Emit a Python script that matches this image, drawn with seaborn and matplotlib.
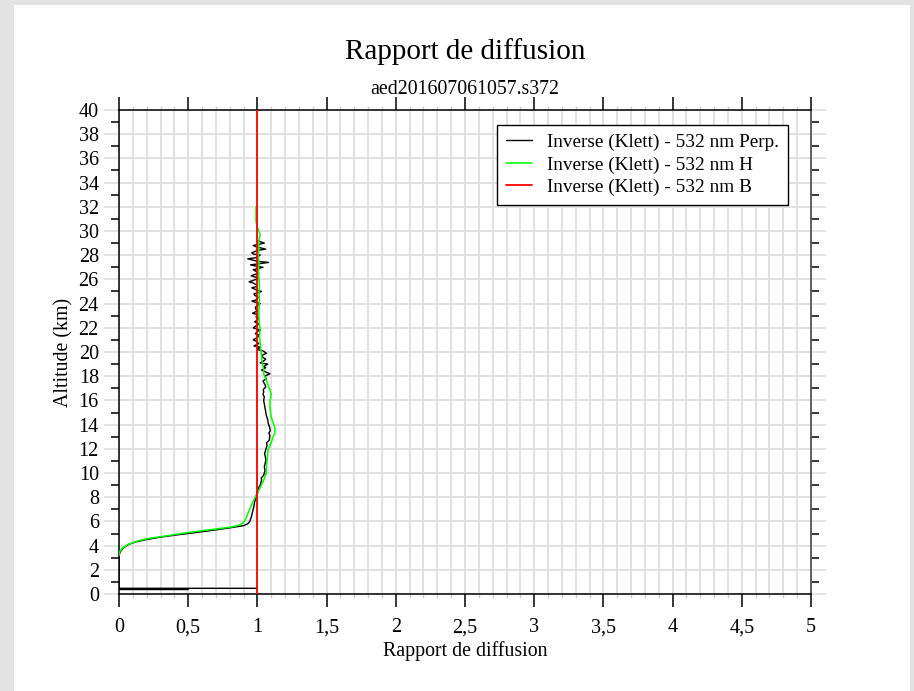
import numpy as np
import pandas as pd
import matplotlib
matplotlib.use("Agg")
import matplotlib.pyplot as plt
from matplotlib.patches import Rectangle
from matplotlib.ticker import MultipleLocator, FuncFormatter
import seaborn as sns

# ---- profile data (altitude in km, scattering ratio) ----
perp_alt = [0.47, 0.47, 0.41, 0.41, 0.37, 0.37,
            3.2, 3.5, 3.8, 4.1, 4.3, 4.5, 4.7, 4.9, 5.1, 5.3, 5.5, 5.65, 5.8,
            6.0, 6.4, 6.8, 7.2, 7.6, 7.9, 8.2, 8.5, 8.8, 9.0, 9.4, 9.6, 9.8,
            10.2, 10.5, 10.8, 11.1, 11.3, 11.6, 11.9, 12.3, 12.5, 12.7, 13.1,
            13.3, 13.5, 13.9, 14.1, 14.4, 14.7, 14.9, 15.2, 15.5, 15.8, 16.0,
            16.3, 16.5, 16.7, 16.9, 17.1, 17.3, 17.6, 17.8, 18.0, 18.2, 18.3,
            18.5, 18.7, 18.8, 19.0, 19.1, 19.3, 19.4, 19.6, 19.7, 19.9, 20.1,
            20.2, 20.4, 20.5, 20.7, 20.9, 21.0, 21.2, 21.4, 21.5, 21.7,
            21.8, 22.0, 22.2, 22.3, 22.5, 22.6, 22.8, 22.9, 23.1, 23.2, 23.4,
            23.5, 23.7, 23.9, 24.0, 24.2, 24.3, 24.5, 24.7, 24.8, 25.0, 25.1,
            25.3, 25.4, 25.5, 25.7, 25.8, 26.0, 26.1, 26.3, 26.4, 26.5, 26.7,
            26.8, 27.0, 27.1, 27.2, 27.4, 27.5, 27.7, 27.8, 28.0, 28.1, 28.2,
            28.4, 28.5, 28.7, 28.8, 29.0, 29.2]
perp_val = [1.0, 0.0, 0.0, 0.5, 0.5, 0.0,
            0.0, 0.01, 0.03, 0.07, 0.12, 0.20, 0.30, 0.43, 0.57, 0.70, 0.82, 0.90, 0.93,
            0.945, 0.957, 0.965, 0.974, 0.98, 0.988, 0.993, 1.005, 1.01, 1.02, 1.03, 1.028, 1.045,
            1.055, 1.05, 1.056, 1.062, 1.058, 1.052, 1.06, 1.07, 1.066, 1.085, 1.09,
            1.083, 1.093, 1.085, 1.078, 1.075, 1.066, 1.062, 1.058, 1.053, 1.048, 1.045,
            1.05, 1.04, 1.046, 1.042, 1.06, 1.055, 1.04, 1.065, 1.052, 1.09, 1.07,
            1.03, 1.06, 1.045, 1.075, 1.02, 1.05, 1.06, 1.035, 1.03, 1.065, 1.04,
            1.0, 1.02, 0.975, 1.01, 0.99, 0.97, 1.0, 1.015, 0.985, 1.0,
            1.02, 0.97, 0.995, 1.01, 0.98, 0.995, 1.01, 0.99, 1.0, 0.965, 1.0,
            0.99, 0.985, 1.01, 1.02, 0.96, 0.99, 1.005, 0.98, 0.975, 1.03, 1.0,
            0.96, 0.99, 1.0, 0.97, 0.94, 0.99, 1.01, 0.955, 0.98, 1.01, 0.985,
            0.97, 1.04, 0.99, 0.95, 1.08, 1.0, 0.93, 0.99, 1.02, 0.97, 0.96,
            1.0, 1.06, 0.99, 0.97, 1.05, 1.0]

h_alt = [3.2, 3.5, 3.8, 4.1, 4.4, 4.6, 4.8, 5.0, 5.2, 5.4, 5.55, 5.7, 5.9,
         6.2, 6.7, 7.3, 7.8, 8.3, 8.8, 9.4, 10.0, 10.5, 11.0, 11.9, 12.5, 12.9,
         13.3, 13.7, 14.1, 14.6, 15.0, 15.5, 16.0, 16.5, 16.9, 17.3, 17.7, 18.2,
         18.6, 19.1, 19.6, 20.2, 20.7, 21.3, 21.9, 22.5, 23.1, 23.7, 24.3, 24.9,
         25.5, 26.1, 26.7, 27.3, 27.9, 28.5, 29.1, 29.7, 30.3, 30.8, 31.4, 32.0]
h_val = [0.0, 0.005, 0.025, 0.065, 0.14, 0.22, 0.34, 0.45, 0.58, 0.72, 0.82, 0.87, 0.90,
         0.915, 0.933, 0.955, 0.975, 1.0, 1.02, 1.045, 1.065, 1.065, 1.07, 1.077, 1.10, 1.11,
         1.125, 1.127, 1.115, 1.10, 1.095, 1.09, 1.092, 1.10, 1.09, 1.075, 1.065, 1.045,
         1.045, 1.035, 1.03, 1.025, 1.02, 1.015, 1.02, 1.012, 1.01, 1.012, 1.015, 1.012,
         1.015, 1.01, 1.008, 1.012, 1.005, 1.01, 1.008, 1.02, 1.0, 0.99, 0.99, 0.99]

b_alt = [0.0, 40.0]
b_val = [1.0, 1.0]

labels = ["Inverse (Klett) - 532 nm Perp.",
          "Inverse (Klett) - 532 nm H",
          "Inverse (Klett) - 532 nm B"]
colors = ["#000000", "#00ff00", "#ff0000"]
widths = [1.0, 1.1, 1.3]

# ---- figure ----
sns.set_theme(style="white")
plt.rcParams["font.family"] = ["Liberation Serif", "DejaVu Serif"]
for key in ["text.color", "axes.labelcolor", "xtick.labelcolor", "ytick.labelcolor"]:
    plt.rcParams[key] = "black"

fig = plt.figure(figsize=(9.14, 6.91), dpi=100, facecolor="#e3e3e3")
# white page on the grey background
fig.patches.append(Rectangle((14 / 914, 0), 896 / 914, 686 / 691,
                             transform=fig.transFigure, facecolor="white",
                             edgecolor="none", zorder=-10))
ax = fig.add_axes([119 / 914, 1 - 594 / 691, 692 / 914, 484 / 691])
ax.set_zorder(2)
ax.set_facecolor("white")

series = [(perp_val, perp_alt), (h_val, h_alt), (b_val, b_alt)]
for (vals, alts), lab, col, lw in zip(series, labels, colors, widths):
    df = pd.DataFrame({"ratio": vals, "alt": alts})
    sns.lineplot(data=df, x="ratio", y="alt", sort=False, estimator=None,
                 color=col, linewidth=lw, label=lab, ax=ax, zorder=3)

ax.set_xlim(0, 5)
ax.set_ylim(0, 40)

ax.xaxis.set_major_locator(MultipleLocator(0.5))
ax.xaxis.set_minor_locator(MultipleLocator(0.1))
ax.yaxis.set_major_locator(MultipleLocator(2))
ax.yaxis.set_minor_locator(MultipleLocator(1))
ax.xaxis.set_major_formatter(FuncFormatter(lambda v, p: f"{v:g}".replace(".", ",")))
ax.yaxis.set_major_formatter(FuncFormatter(lambda v, p: f"{v:g}"))

ax.grid(False)
ax.grid(True, which="minor", axis="x", color="#dedede", linewidth=1.3, zorder=0)
ax.grid(True, which="major", axis="x", color="#dedede", linewidth=1.3, zorder=0)
ax.grid(True, which="major", axis="y", color="#dedede", linewidth=1.3, zorder=0)
ax.set_axisbelow(True)

tick_font = 14.5
ax.tick_params(axis="x", which="major", direction="out", length=9.5, width=1.1,
               color="black", bottom=True, top=True, labelbottom=True,
               labeltop=False, labelsize=tick_font, pad=8)
ax.tick_params(axis="x", which="minor", direction="out", length=3, width=1.0,
               color="#cfcfcf", bottom=True, top=True)
ax.tick_params(axis="y", which="major", direction="out", length=10.5, width=1.2,
               color="#dedede", left=True, right=True, labelleft=True,
               labelright=False, labelsize=tick_font, pad=4)
ax.tick_params(axis="y", which="minor", direction="out", length=5.5, width=1.1,
               color="black", left=True, right=True)

for side in ["left", "bottom", "top"]:
    ax.spines[side].set_color("black")
    ax.spines[side].set_linewidth(1.1)
ax.spines["right"].set_color("#555555")
ax.spines["right"].set_linewidth(1.3)

ax.set_xlabel("Rapport de diffusion", fontsize=14.3, labelpad=3)
ax.set_ylabel("Altitude (km)", fontsize=14.3, labelpad=4)

fig.text(465 / 914, 1 - 52 / 691, "Rapport de diffusion", ha="center",
         va="center", fontsize=21)
fig.text(465 / 914, 1 - 90 / 691, "aed201607061057.s372", ha="center",
         va="center", fontsize=14.3)

leg = ax.legend(loc="upper right", bbox_to_anchor=(788 / 914, 1 - 125 / 691),
                bbox_transform=fig.transFigure, fontsize=13.9, frameon=True,
                fancybox=False, framealpha=1, edgecolor="black",
                handlelength=1.35, handletextpad=0.8, borderpad=0.45,
                labelspacing=0.25, borderaxespad=0)
leg.get_frame().set_linewidth(1.0)

fig.savefig("out.png", dpi=100, facecolor=fig.get_facecolor())
